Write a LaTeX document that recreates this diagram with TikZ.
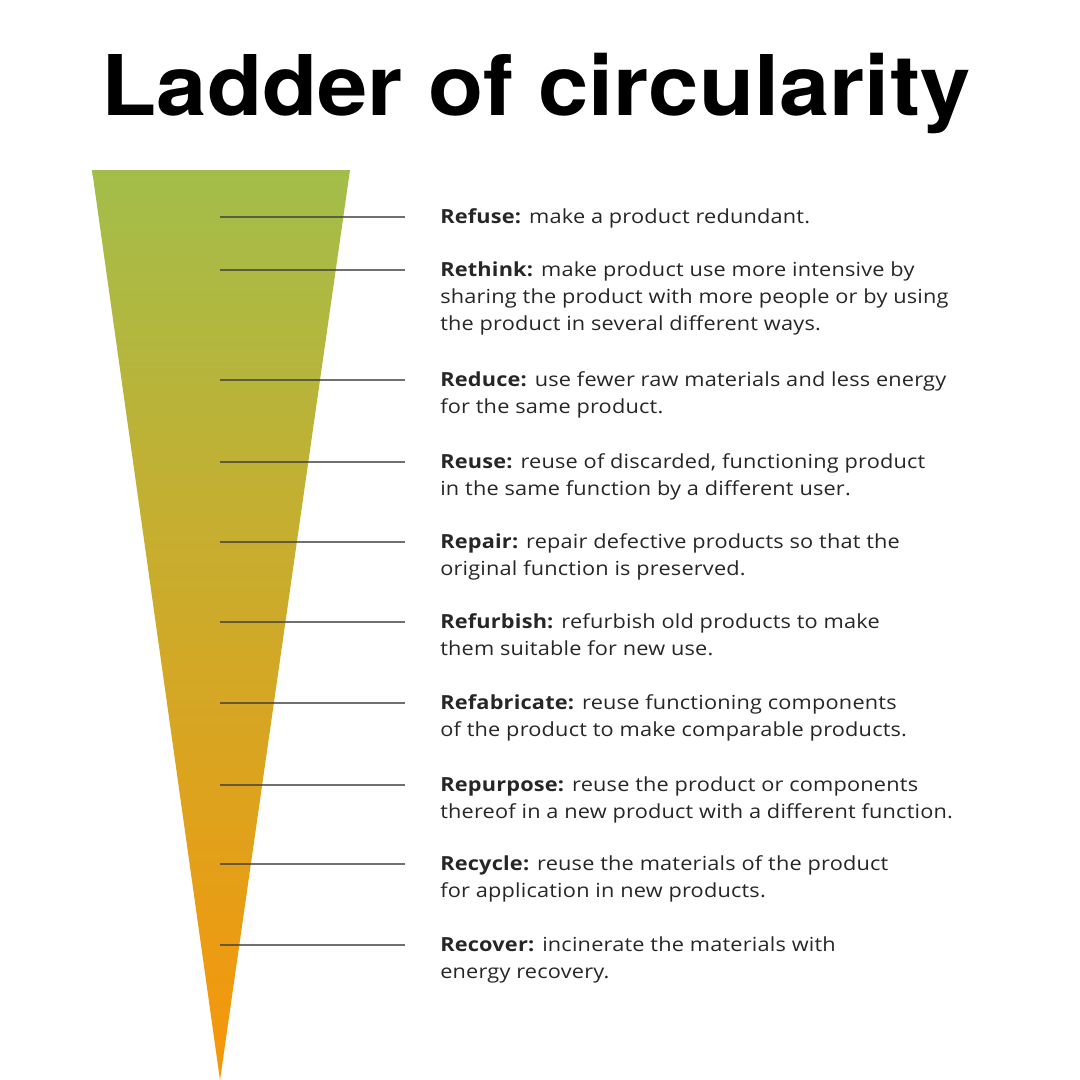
\documentclass[tikz,border=0pt]{standalone}
\usepackage{fontspec}
\setmainfont{Open Sans}[FakeStretch=1.12,LetterSpace=1]
\newfontfamily\titlefont{TeX Gyre Heros}
\usetikzlibrary{positioning}

\definecolor{laddergreen}{HTML}{A2BE4A}
\definecolor{ladderolive}{HTML}{C8AD2E}
\definecolor{ladderorange}{HTML}{F7960A}
\pgfdeclareverticalshading{ladderfade}{100bp}{%
  color(0bp)=(ladderorange); color(25bp)=(ladderorange);
  color(54bp)=(ladderolive);
  color(75bp)=(laddergreen); color(100bp)=(laddergreen)}
\newcommand\descfont{\fontsize{13.8}{19.2}\selectfont}

\begin{document}
\begin{tikzpicture}[x=0.025cm,y=-0.025cm,
    rung/.style={line width=1pt,black!75,opacity=0.75},
    desc/.style={anchor=north west,inner sep=0pt,align=left,font=\descfont,text=black!85}]
  \useasboundingbox (0,0) rectangle (1080,1080);

  % title
  \node[font=\titlefont\bfseries\fontsize{59.5}{60}\selectfont,anchor=base] (title) at (536,115)
    {\scalebox{1.08}[1]{Ladder of circularity}};

  % funnel
  \shade[shading=ladderfade] (92,170) -- (350,170) -- (220,1080) -- cycle;

  % rungs
  \foreach \n/\y in {1/217,2/270,3/380,4/462,5/542,6/622,7/703,8/785,9/864,10/945}{
    \coordinate (a\n) at (220,\y);
    \coordinate (b\n) at (405,\y);
    \draw[rung] (a\n) -- (b\n);
  }

  % descriptions
  \node[desc] (refuse) at (440,208) {\textbf{Refuse:} make a product redundant.};
  \node[desc] (rethink) at (440,261) {\textbf{Rethink:} make product use more intensive by\\
    sharing the product with more people or by using\\the product in several different ways.};
  \node[desc] (reduce) at (440,371) {\textbf{Reduce:} use fewer raw materials and less energy\\
    for the same product.};
  \node[desc] (reuse) at (440,453) {\textbf{Reuse:} reuse of discarded, functioning product\\
    in the same function by a different user.};
  \node[desc] (repair) at (440,533) {\textbf{Repair:} repair defective products so that the\\
    original function is preserved.};
  \node[desc] (refurbish) at (440,613) {\textbf{Refurbish:} refurbish old products to make\\
    them suitable for new use.};
  \node[desc] (refabricate) at (440,694) {\textbf{Refabricate:} reuse functioning components\\
    of the product to make comparable products.};
  \node[desc] (repurpose) at (440,776) {\textbf{Repurpose:} reuse the product or components\\
    thereof in a new product with a different function.};
  \node[desc] (recycle) at (440,855) {\textbf{Recycle:} reuse the materials of the product\\
    for application in new products.};
  \node[desc] (recover) at (440,936) {\textbf{Recover:} incinerate the materials with\\
    energy recovery.};
\end{tikzpicture}
\end{document}
